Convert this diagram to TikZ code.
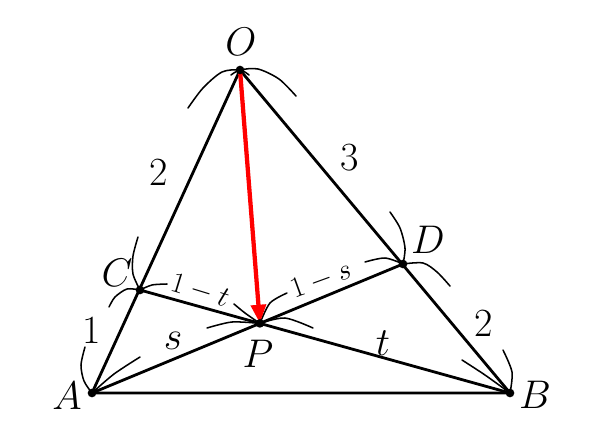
\RequirePackage{fix-cm}
\documentclass[tikz,border=0pt]{standalone}
\usetikzlibrary{arrows.meta}
\begin{document}
\begin{tikzpicture}[x=0.75pt,y=-0.75pt,
  seg/.style={line width=2.1pt, line cap=round, line join=round},
  brk/.style={line width=1.15pt, line cap=round},
  lbl/.style={font=\fontsize{30}{33}\selectfont, inner sep=0pt},
  slbl/.style={font=\fontsize{22}{24}\selectfont, inner sep=0pt},
  pdot/.style={circle, fill=black, inner sep=0pt, minimum size=6.5pt},
  vec/.style={red, line width=3.2pt, -{Triangle[length=14pt,width=11pt]}}]
\useasboundingbox (0,0) rectangle (600,430);
\coordinate (O) at (240,70);
\coordinate (A) at (92,393);
\coordinate (B) at (510,393);
\coordinate (C) at (140,290);
\coordinate (D) at (403,264);
\coordinate (P) at (intersection of A--D and B--C);
% segments
\draw[seg] (O) -- (A) -- (B) -- cycle;
\draw[seg] (A) -- (D);
\draw[seg] (B) -- (C);
% length brackets
\draw[brk] plot[smooth] coordinates {(249,75) (O) (222,72) (203,88) (188,108)};
\draw[brk] plot[smooth] coordinates {(231,75) (O) (258,69) (279,79) (296,96)};
\draw[brk] plot[smooth] coordinates {(C) (133,274) (133,256) (138,237)};
\draw[brk] plot[smooth] coordinates {(C) (127,289) (115,297) (109,307)};
\draw[brk] plot[smooth] coordinates {(A) (84,381) (81,365) (85,347)};
\draw[brk] plot[smooth] coordinates {(A) (114,374) (140,357)};
\draw[brk] plot[smooth] coordinates {(P) (232,322) (207,328)};
\draw[brk] plot[smooth] coordinates {(C) (152,285) (167,284)};
\draw[brk] plot[smooth] coordinates {(P) (245,313) (234,304)};
\draw[brk] plot[smooth] coordinates {(P) (270,303) (287,293)};
\draw[brk] plot[smooth] coordinates {(D) (385,258) (365,262)};
\draw[brk] plot[smooth] coordinates {(P) (285,318) (313,328)};
\draw[brk] plot[smooth] coordinates {(B) (485,375) (462,360)};
\draw[brk] plot[smooth] coordinates {(D) (423,263) (437,272) (450,286)};
\draw[brk] plot[smooth] coordinates {(B) (512,372) (503,350)};
\draw[brk] plot[smooth] coordinates {(D) (405,248) (400,228) (390,212)};
% vector OP
\draw[vec] (O) -- (P);
% points
\foreach \p in {O,A,B,C,D,P} \node[pdot] (d\p) at (\p) {};
% labels
\node[lbl] (lO) at (241,42) {$O$};
\node[lbl] (lA) at (67,396) {$A$};
\node[lbl] (lB) at (535,395) {$B$};
\node[lbl] (lC) at (117,273) {$C$};
\node[lbl] (lD) at (428,240) {$D$};
\node[lbl] (lP) at (258,354) {$P$};
\node[lbl] (n2a) at (159,172) {2};
\node[lbl] (n3) at (350,158) {3};
\node[lbl] (n1) at (92,330) {1};
\node[lbl] (n2b) at (484,323) {2};
\node[lbl] (ns) at (173,341) {$s$};
\node[lbl] (nt) at (383,343) {$t$};
\node[slbl, rotate=-17] (n1t) at (200,291) {$1-t$};
\node[slbl, rotate=20] (n1s) at (321,280) {$1-s$};
\end{tikzpicture}
\end{document}
